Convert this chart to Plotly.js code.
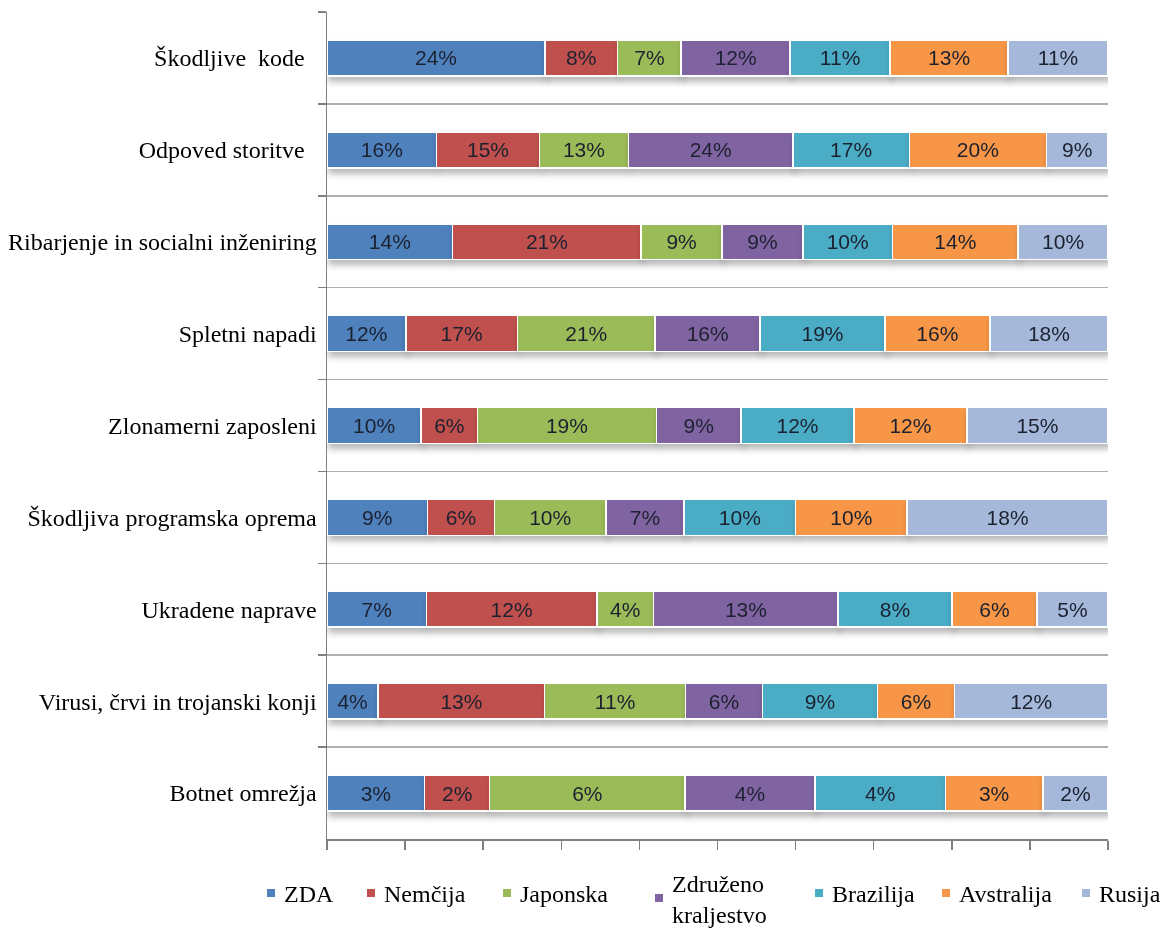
<!DOCTYPE html>
<html>
<head>
<meta charset="utf-8">
<script src="https://cdn.plot.ly/plotly-3.0.1.min.js"></script>
<style>
  html, body { margin: 0; padding: 0; background: #fff; }
  #chart { width: 1165px; height: 929px; }
  /* soft drop shadow under each bar segment */
  .barlayer .trace { filter: drop-shadow(2px 5px 3px rgba(0,0,0,0.28)); }
</style>
</head>
<body>
<div id="chart"></div>
<script>
// Threat categories, top to bottom
const categories = [
  "Škodljive\u00a0 kode\u00a0\u00a0",
  "Odpoved storitve\u00a0\u00a0",
  "Ribarjenje in socialni inženiring",
  "Spletni napadi",
  "Zlonamerni zaposleni",
  "Škodljiva programska oprema",
  "Ukradene naprave",
  "Virusi, črvi in trojanski konji",
  "Botnet omrežja"
];

// Country series (shares in %), same order as categories
const zda        = [24, 16, 14, 12, 10,  9,  7,  4, 3];
const nemcija    = [ 8, 15, 21, 17,  6,  6, 12, 13, 2];
const japonska   = [ 7, 13,  9, 21, 19, 10,  4, 11, 6];
const zdruzeno   = [12, 24,  9, 16,  9,  7, 13,  6, 4];
const brazilija  = [11, 17, 10, 19, 12, 10,  8,  9, 4];
const avstralija = [13, 20, 14, 16, 12, 10,  6,  6, 3];
const rusija     = [11,  9, 10, 18, 15, 18,  5, 12, 2];

const seriesNames = ["ZDA", "Nemčija", "Japonska", "Združeno<br>kraljestvo", "Brazilija", "Avstralija", "Rusija"];
const seriesValues = [zda, nemcija, japonska, zdruzeno, brazilija, avstralija, rusija];
const seriesColors = ["#4F81BD", "#C0504D", "#9BBB59", "#8064A2", "#4BACC6", "#F79646", "#A5B8DA"];

// Figure geometry (px)
const W = 1165, H = 929;
const M = { l: 327, r: 57, t: 12, b: 90 };
const plotW = W - M.l - M.r, plotH = H - M.t - M.b;
const toPaperX = px => (px - M.l) / plotW;
const toPaperY = py => (H - M.b - py) / plotH;

const traces = seriesValues.map((vals, i) => ({
  type: "bar",
  orientation: "h",
  name: seriesNames[i],
  y: categories,
  x: vals,
  text: vals.map(v => v + "%"),
  texttemplate: "%{text}",
  textposition: "inside",
  insidetextanchor: "middle",
  textangle: 0,
  insidetextfont: { family: "Liberation Sans, Arial, sans-serif", size: 21, color: "#1c2130" },
  marker: { color: seriesColors[i], line: { color: "#ffffff", width: 1.5 } },
  hoverinfo: "skip",
  showlegend: false
}));

// Legend row below the axis: a small colour square and a label per series
const legendMarkerX = [271, 371, 507, 659, 819, 946, 1086];
const legendRowY = 894;
const sq = 8;
const legendShapes = [];
const legendAnnotations = [];
seriesNames.forEach((name, i) => {
  const cx = legendMarkerX[i];
  const twoLine = name.indexOf("<br>") >= 0;
  const cy = twoLine ? legendRowY + 4 : legendRowY - 1;
  legendShapes.push({
    type: "rect", xref: "paper", yref: "paper",
    x0: toPaperX(cx - sq / 2), x1: toPaperX(cx + sq / 2),
    y0: toPaperY(cy + sq / 2), y1: toPaperY(cy - sq / 2),
    fillcolor: seriesColors[i], line: { width: 0 }
  });
  legendAnnotations.push({
    xref: "paper", yref: "paper",
    x: toPaperX(cx + 11), y: toPaperY(twoLine ? legendRowY + 5 : legendRowY),
    xanchor: "left", yanchor: "middle", align: "left",
    text: name, showarrow: false,
    font: { family: "Liberation Serif, Times New Roman, serif", size: 24, color: "#000" }
  });
});

const layout = {
  width: W,
  height: H,
  margin: { l: M.l, r: M.r, t: M.t, b: M.b, pad: 0, autoexpand: false },
  paper_bgcolor: "#ffffff",
  plot_bgcolor: "#ffffff",
  barmode: "stack",
  barnorm: "percent",
  bargap: 0.61,
  uniformtext: { minsize: 21, mode: "show" },
  showlegend: false,
  xaxis: {
    range: [0, 100],
    dtick: 10,
    tick0: 0,
    showticklabels: false,
    ticks: "outside",
    ticklen: 9,
    tickwidth: 1.5,
    tickcolor: "#808080",
    showgrid: false,
    zeroline: false,
    showline: true,
    linecolor: "#808080",
    linewidth: 1.5,
    fixedrange: true
  },
  yaxis: {
    type: "category",
    autorange: "reversed",
    tickson: "boundaries",
    ticks: "outside",
    ticklen: 8,
    tickwidth: 1.5,
    tickcolor: "#808080",
    ticklabelstandoff: 4,
    showgrid: true,
    gridcolor: "#b0b0b0",
    gridwidth: 1.5,
    showline: true,
    linecolor: "#808080",
    linewidth: 1.5,
    zeroline: false,
    tickfont: { family: "Liberation Serif, Times New Roman, serif", size: 24, color: "#000" },
    fixedrange: true
  },
  shapes: legendShapes,
  annotations: legendAnnotations,
  font: { family: "Liberation Serif, Times New Roman, serif", color: "#000" }
};

Plotly.newPlot("chart", traces, layout, { displayModeBar: false, staticPlot: true });
</script>
</body>
</html>
